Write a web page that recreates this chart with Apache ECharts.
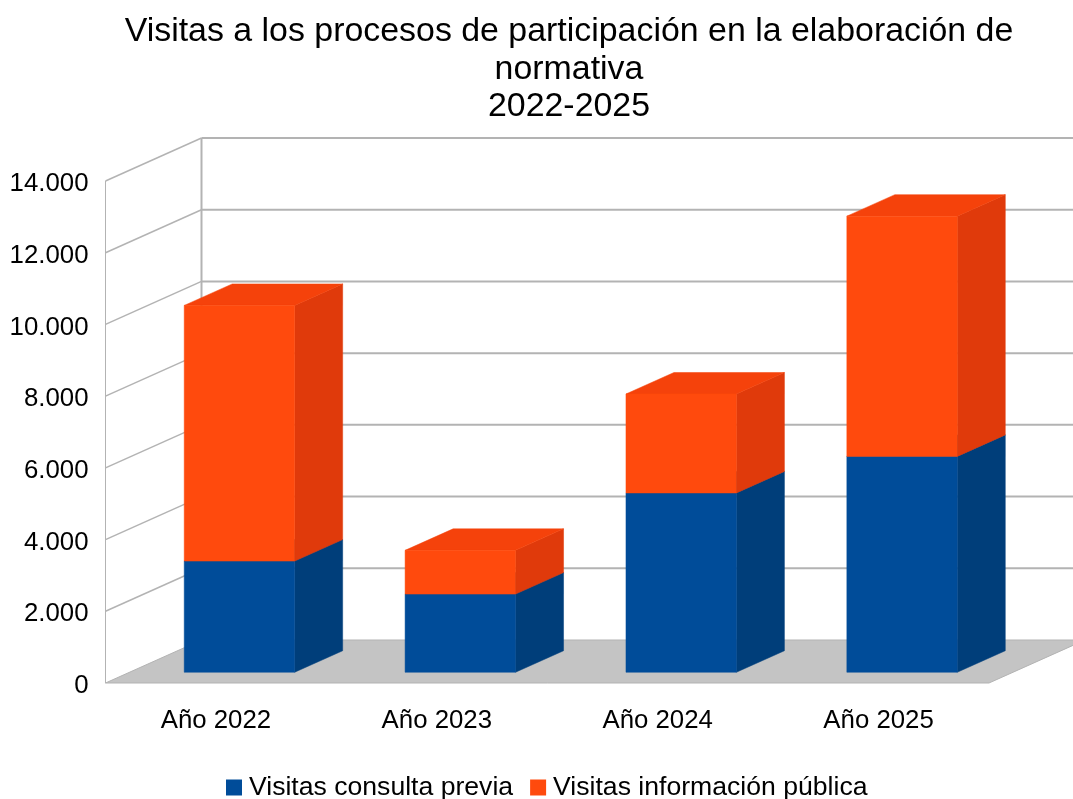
<!DOCTYPE html>
<html>
<head>
<meta charset="utf-8">
<style>html,body{margin:0;padding:0;background:#fff;overflow:hidden}#c{width:1073px;height:799px}</style>
<script src="https://cdn.jsdelivr.net/npm/echarts@6/dist/echarts.min.js"></script>
</head>
<body>
<div id="c"></div>
<script>
const categories = ['Año 2022', 'Año 2023', 'Año 2024', 'Año 2025'];
const consultaPrevia = [3100, 2180, 5000, 6020];
const informacionPublica = [7130, 1220, 2760, 6700];
const yTicks = [0, 2000, 4000, 6000, 8000, 10000, 12000, 14000];
const titleText = 'Visitas a los procesos de participación en la elaboración de\nnormativa\n2022-2025';

const DX = 96, DY = -43, GRID = '#b3b3b3';
const FONT = '"Liberation Sans", Arial, sans-serif';

function fmt(v) { return String(v).replace(/\B(?=(\d{3})+$)/g, '.'); }

function box(api, color, side, top) {
  const cat = api.value(0);
  const a = api.coord([cat, api.value(1)]);
  const b = api.coord([cat, api.value(2)]);
  const w = api.size([1, 0])[0] * 0.5;
  const dx1 = DX * 0.25, dy1 = DY * 0.25, dx2 = DX * 0.75, dy2 = DY * 0.75;
  const l = a[0] - w / 2 + dx1 - 0.5, r = l + w;
  const y0 = a[1] + dy1, y1 = b[1] + dy1;
  const ox = dx2 - dx1, oy = dy2 - dy1;
  const poly = (pts, fill) => ({
    type: 'polygon', shape: { points: pts },
    style: { fill: fill, stroke: fill, lineWidth: 0.5 }
  });
  return { type: 'group', children: [
    poly([[r, y0], [r + ox, y0 + oy], [r + ox, y1 + oy], [r, y1]], side),
    poly([[l, y1], [r, y1], [r + ox, y1 + oy], [l + ox, y1 + oy]], top),
    poly([[l, y0], [r, y0], [r, y1], [l, y1]], color)
  ]};
}

const stackTop = consultaPrevia.map((v, i) => v + informacionPublica[i]);

const option = {
  animation: false,
  backgroundColor: '#fff',
  title: {
    text: titleText, left: 564, top: 8, textAlign: 'center',
    textStyle: { fontFamily: FONT, fontSize: 33.9, fontWeight: 'normal', color: '#000', lineHeight: 37.5 }
  },
  grid: { left: 105.5, right: 84, top: 181, bottom: 116, containLabel: false },
  xAxis: {
    type: 'category', data: categories,
    axisLine: { show: false }, axisTick: { show: false }, splitLine: { show: false },
    axisLabel: { fontFamily: FONT, fontSize: 25.8, color: '#000', margin: 25 }
  },
  yAxis: {
    type: 'value', min: 0, max: 14000, interval: 2000,
    axisLine: { show: false }, axisTick: { show: false }, splitLine: { show: false },
    axisLabel: { fontFamily: FONT, fontSize: 25.8, color: '#000', margin: 17, verticalAlign: 'top', lineHeight: 6, formatter: fmt }
  },
  legend: {
    data: ['Visitas consulta previa', 'Visitas información pública'],
    left: 226, top: 774, itemWidth: 16, itemHeight: 16, itemGap: 17,
    icon: 'rect', padding: 0,
    textStyle: { fontFamily: FONT, fontSize: 26.6, color: '#000', padding: [0, 0, 0, 2] }
  },
  series: [
    {
      name: 'walls', type: 'custom', silent: true, clip: false, z: 1,
      data: yTicks.map(v => [0, v]),
      encode: { y: 1 },
      renderItem: (params, api) => {
        const v = api.value(1);
        const p = api.coord([0, v]);
        const band = api.size([1, 0])[0];
        const x0 = p[0] - band / 2;
        const x1 = x0 + band * categories.length;
        const y = p[1];
        const kids = [];
        const line = (a, b, w) => ({
          type: 'line', shape: { x1: a[0], y1: a[1], x2: b[0], y2: b[1] },
          style: { stroke: GRID, lineWidth: w }
        });
        if (v === 0) {
          const top = api.coord([0, yTicks[yTicks.length - 1]])[1];
          kids.push({
            type: 'polygon',
            shape: { points: [[x0, y], [x1, y], [x1 + DX, y + DY], [x0 + DX, y + DY]] },
            style: { fill: '#c4c4c4', stroke: GRID, lineWidth: 1 }
          });
          kids.push(line([x0, y], [x0, top], 1));
          kids.push(line([x0 + DX, y + DY], [x0 + DX, top + DY], 2));
        } else {
          kids.push(line([x0, y], [x0 + DX, y + DY], 1.5));
          kids.push(line([x0 + DX, y + DY], [x1 + DX, y + DY], 2));
        }
        return { type: 'group', children: kids };
      }
    },
    {
      name: 'Visitas consulta previa', type: 'custom', clip: false, z: 3,
      itemStyle: { color: '#004c99' },
      data: consultaPrevia.map((v, i) => [i, 0, v]),
      encode: { x: 0, y: [1, 2] },
      renderItem: (params, api) => box(api, '#004c99', '#003e7a', '#004488')
    },
    {
      name: 'Visitas información pública', type: 'custom', clip: false, z: 4,
      itemStyle: { color: '#ff4a0d' },
      data: informacionPublica.map((v, i) => [i, consultaPrevia[i], stackTop[i]]),
      encode: { x: 0, y: [1, 2] },
      renderItem: (params, api) => box(api, '#ff4a0d', '#e03a0b', '#f5420b')
    }
  ]
};
echarts.init(document.getElementById('c'), null, { renderer: 'canvas' }).setOption(option);
</script>
</body>
</html>
